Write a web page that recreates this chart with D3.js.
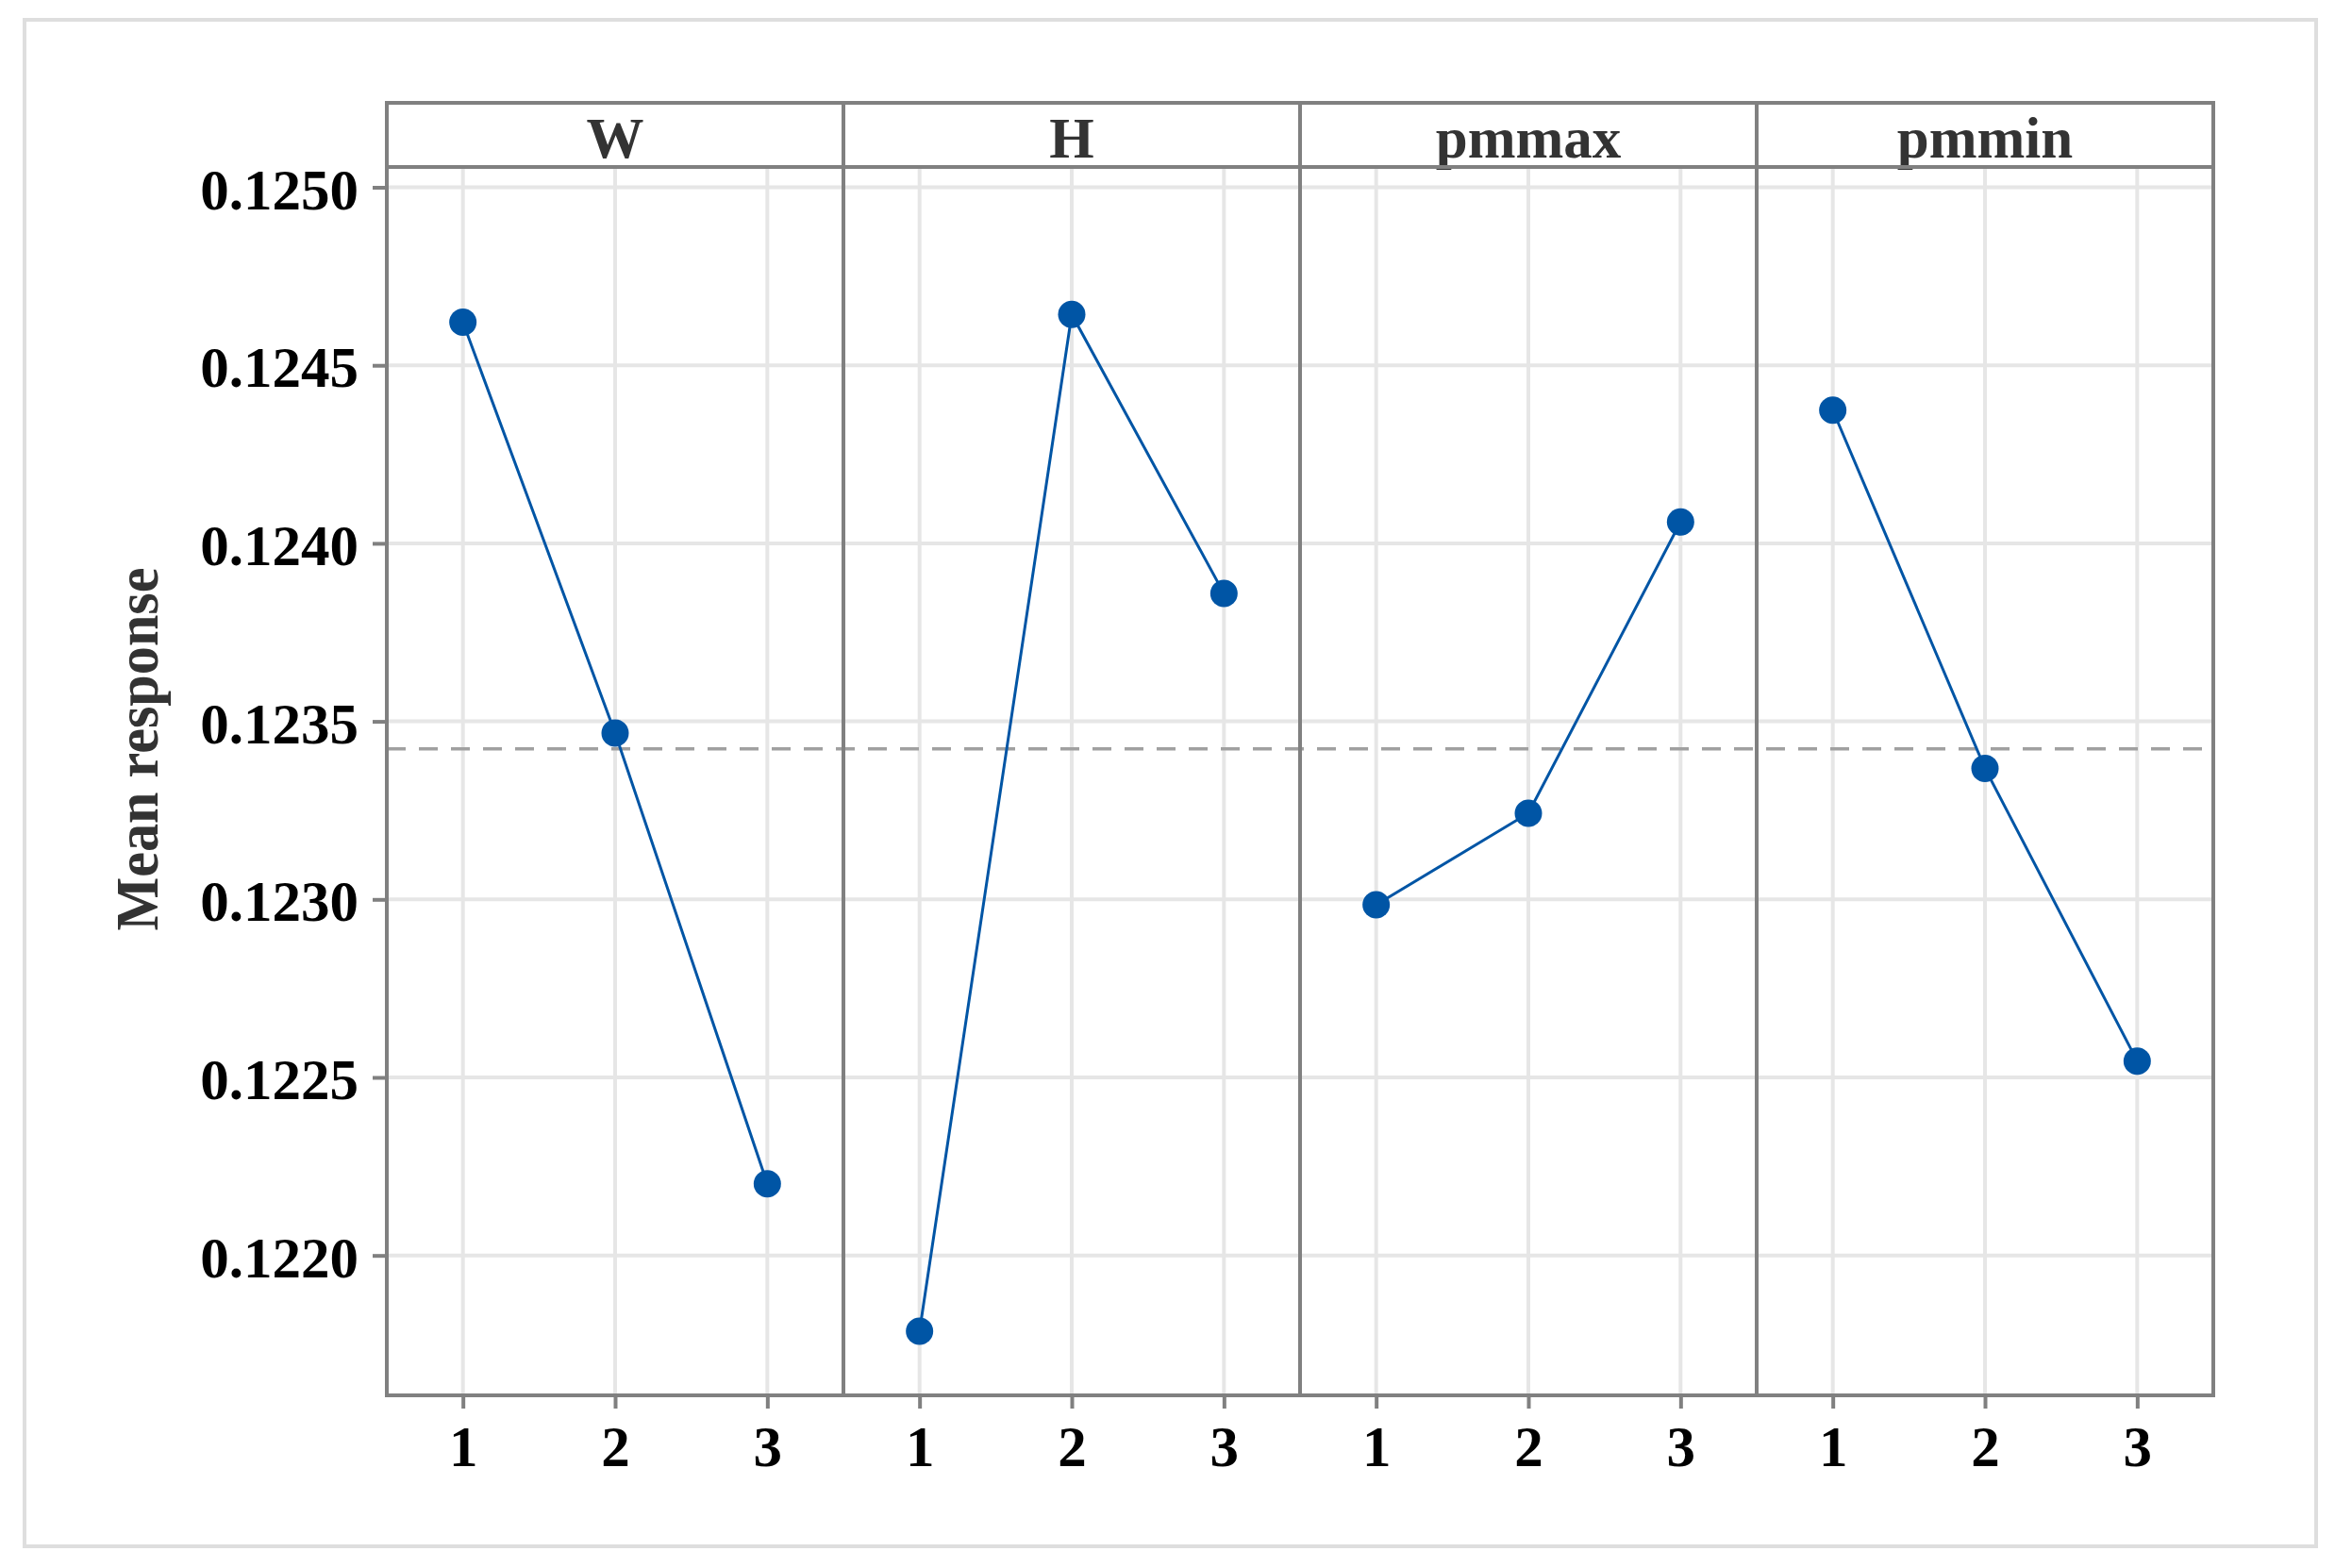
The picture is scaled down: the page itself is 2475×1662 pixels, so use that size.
<!DOCTYPE html>
<html>
<head>
<meta charset="utf-8">
<script src="https://cdn.jsdelivr.net/npm/d3@7"></script>
<style>
  html, body { margin: 0; padding: 0; background: #ffffff; }
  svg { display: block; }
</style>
</head>
<body>
<script>
// ---------- DATA ----------
const factors = ["W", "H", "pmmax", "pmmin"];
const levels = ["1", "2", "3"];
const valuesW     = [0.124621, 0.123467, 0.122201];
const valuesH     = [0.121787, 0.124643, 0.123859];
const valuesPmmax = [0.122985, 0.123242, 0.124060];
const valuesPmmin = [0.124374, 0.123368, 0.122546];
const grandMean = 0.123423;
const yTickValues = [0.1220, 0.1225, 0.1230, 0.1235, 0.1240, 0.1245, 0.1250];
const yDomain = [0.121607, 0.125057];
const yTitle = "Mean response";

const series = [valuesW, valuesH, valuesPmmax, valuesPmmin];

// ---------- LAYOUT ----------
const W = 2475, H = 1662;
const left = 410, right = 2346;
const stripTop = 109, plotTop = 177, plotBottom = 1479;
const panelW = (right - left) / factors.length;
const fontFam = "'Liberation Serif', 'Times New Roman', Times, serif";
const gridColor = "#e6e6e6";
const frameColor = "#808080";
const lineColor = "#0055a5";

const svg = d3.select("body").append("svg")
  .attr("width", W).attr("height", H);

svg.append("rect").attr("width", W).attr("height", H).attr("fill", "#fff");

// outer light border
svg.append("rect")
  .attr("x", 26).attr("y", 21)
  .attr("width", 2455 - 26).attr("height", 1639 - 21)
  .attr("fill", "none").attr("stroke", "#dedede").attr("stroke-width", 4);

const y = d3.scaleLinear().domain(yDomain).range([plotBottom, plotTop]);

const panelX = d3.scaleBand().domain(factors).range([left, right]).padding(0);

// horizontal gridlines
svg.append("g").selectAll("line")
  .data(yTickValues).join("line")
  .attr("x1", left).attr("x2", right)
  .attr("y1", d => y(d)).attr("y2", d => y(d))
  .attr("stroke", gridColor).attr("stroke-width", 4);

const lineGen = d3.line();

factors.forEach((f, i) => {
  const x0 = panelX(f);
  const x = d3.scalePoint().domain(levels).range([x0, x0 + panelW]).padding(0.5);
  const g = svg.append("g");

  // vertical gridlines
  g.selectAll("line.vg").data(levels).join("line")
    .attr("class", "vg")
    .attr("x1", d => x(d)).attr("x2", d => x(d))
    .attr("y1", plotTop).attr("y2", plotBottom)
    .attr("stroke", gridColor).attr("stroke-width", 4);

  // x axis
  const ax = svg.append("g")
    .attr("transform", `translate(0,${plotBottom})`)
    .call(d3.axisBottom(x).tickSize(14).tickPadding(18));
  ax.select(".domain").remove();
  ax.selectAll(".tick line").attr("stroke", frameColor).attr("stroke-width", 4);
  ax.selectAll(".tick text")
    .attr("font-family", fontFam).attr("font-weight", "bold")
    .attr("font-size", 61).attr("fill", "#000");

  // strip
  svg.append("rect")
    .attr("x", x0).attr("y", stripTop)
    .attr("width", panelW).attr("height", plotTop - stripTop)
    .attr("fill", "#fff").attr("stroke", frameColor).attr("stroke-width", 4);
  svg.append("text")
    .attr("x", x0 + panelW / 2).attr("y", 167)
    .attr("text-anchor", "middle")
    .attr("font-family", fontFam).attr("font-weight", "bold")
    .attr("font-size", 61).attr("fill", "#333")
    .text(f);
});

// grand mean dashed line
svg.append("line")
  .attr("x1", left).attr("x2", right)
  .attr("y1", y(grandMean)).attr("y2", y(grandMean))
  .attr("stroke", "#a0a0a0").attr("stroke-width", 3.5)
  .attr("stroke-dasharray", "20,14");

// panel frames
factors.forEach(f => {
  svg.append("rect")
    .attr("x", panelX(f)).attr("y", plotTop)
    .attr("width", panelW).attr("height", plotBottom - plotTop)
    .attr("fill", "none").attr("stroke", frameColor).attr("stroke-width", 4);
});

// series lines and points
factors.forEach((f, i) => {
  const x0 = panelX(f);
  const x = d3.scalePoint().domain(levels).range([x0, x0 + panelW]).padding(0.5);
  const pts = levels.map((l, j) => [x(l), y(series[i][j])]);
  svg.append("path")
    .attr("d", lineGen(pts))
    .attr("fill", "none").attr("stroke", lineColor).attr("stroke-width", 3);
  svg.append("g").selectAll("circle").data(pts).join("circle")
    .attr("cx", d => d[0]).attr("cy", d => d[1]).attr("r", 14.5)
    .attr("fill", lineColor);
});

// y axis
const ay = svg.append("g")
  .attr("transform", `translate(${left},0)`)
  .call(d3.axisLeft(y).tickValues(yTickValues).tickFormat(d3.format(".4f")).tickSize(15).tickPadding(15));
ay.select(".domain").remove();
ay.selectAll(".tick line").attr("stroke", frameColor).attr("stroke-width", 4);
ay.selectAll(".tick text")
  .attr("font-family", fontFam).attr("font-weight", "bold")
  .attr("font-size", 61).attr("fill", "#000").attr("dy", "0.37em");

// y title
svg.append("text")
  .attr("transform", "translate(167,794) rotate(-90)")
  .attr("text-anchor", "middle")
  .attr("font-family", fontFam).attr("font-weight", "bold")
  .attr("font-size", 63).attr("fill", "#333")
  .attr("textLength", 385).attr("lengthAdjust", "spacingAndGlyphs")
  .text(yTitle);
</script>
</body>
</html>
